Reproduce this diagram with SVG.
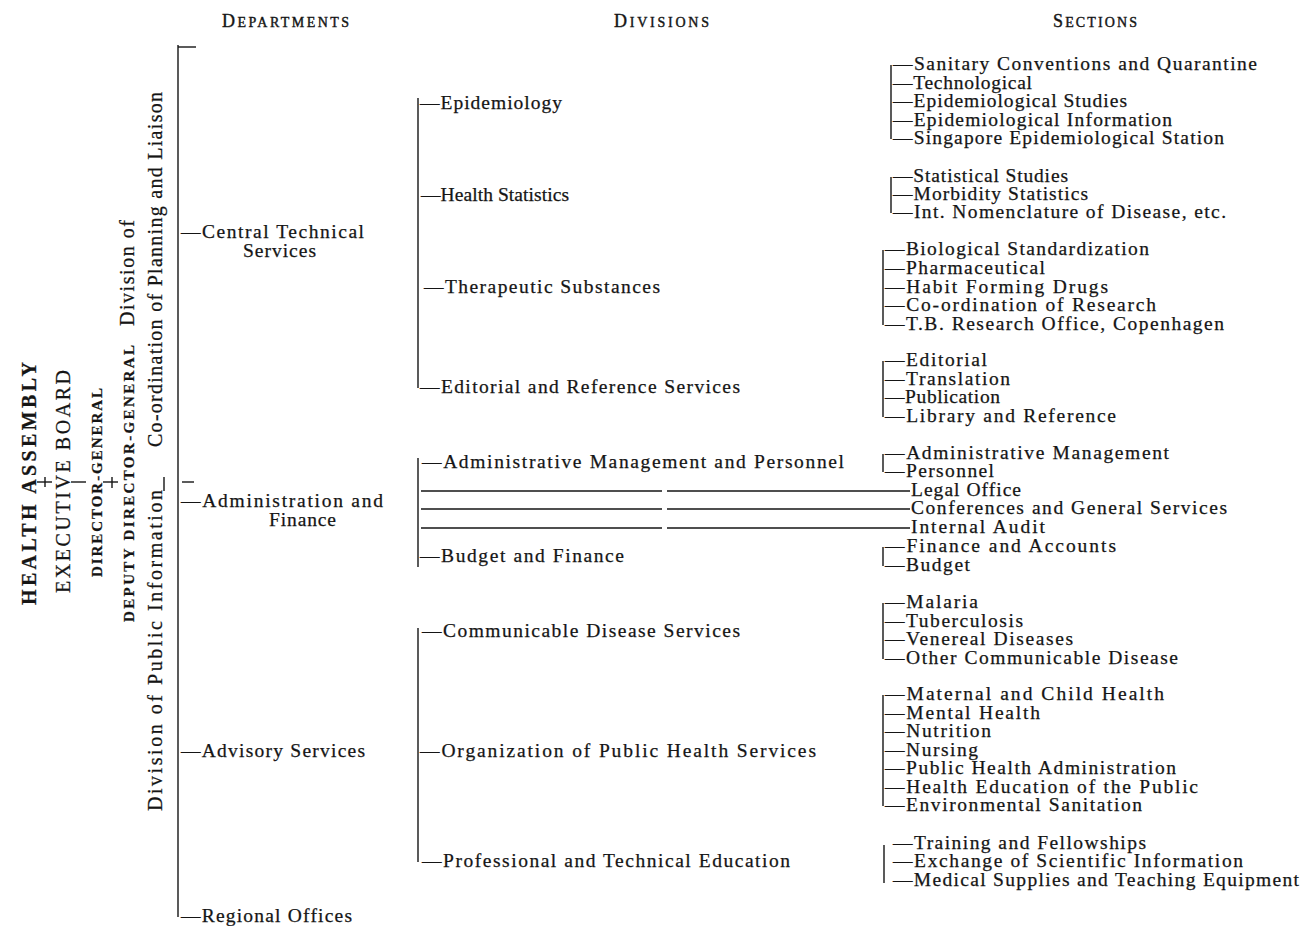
<svg xmlns="http://www.w3.org/2000/svg" width="1302" height="926" viewBox="0 0 1302 926">
<style>
.t{font-family:"Liberation Serif","Times New Roman",serif;font-size:19.5px;fill:#151515;stroke:#151515;stroke-width:0.25}
.v{font-family:"Liberation Serif","Times New Roman",serif;fill:#151515;stroke:#151515;stroke-width:0.25}
.h{font-family:"Liberation Serif","Times New Roman",serif;fill:#151515;stroke:#151515;stroke-width:0.4}
.c line{stroke:#151515;stroke-width:1.4;fill:none}
</style>
<rect width="1302" height="926" fill="#ffffff"/>
<g id="headers">
<text class="h" x="222" y="27" textLength="127"><tspan font-size="18">D</tspan><tspan font-size="14">EPARTMENTS</tspan></text>
<text class="h" x="614" y="27" textLength="95"><tspan font-size="18">D</tspan><tspan font-size="14">IVISIONS</tspan></text>
<text class="h" x="1053" y="27" textLength="84"><tspan font-size="18">S</tspan><tspan font-size="14">ECTIONS</tspan></text>
</g>
<g id="top-level">
<text class="v" font-size="20" font-weight="bold" transform="translate(36,605) rotate(-90)" textLength="243">HEALTH ASSEMBLY</text>
<text class="v" font-size="20" transform="translate(70,593) rotate(-90)" textLength="223">EXECUTIVE BOARD</text>
<text class="v" font-size="15" font-weight="bold" transform="translate(102,577) rotate(-90)" textLength="189">DIRECTOR-GENERAL</text>
<text class="v" font-size="15" font-weight="bold" transform="translate(134,622) rotate(-90)" textLength="277">DEPUTY DIRECTOR-GENERAL</text>
<text class="v" font-size="20" transform="translate(134,326) rotate(-90)" textLength="106">Division of</text>
<text class="v" font-size="20" transform="translate(162,447) rotate(-90)" textLength="355">Co-ordination of Planning and Liaison</text>
<text class="v" font-size="20" transform="translate(162,811) rotate(-90)" textLength="321">Division of Public Information</text>
</g>
<g class="c" id="connectors">
<line x1="37" y1="482" x2="52" y2="482"/>
<line x1="45" y1="477" x2="45" y2="487"/>
<line x1="71" y1="482" x2="86" y2="482"/>
<line x1="103" y1="482" x2="118" y2="482"/>
<line x1="112" y1="477" x2="112" y2="488"/>
<line x1="164" y1="477" x2="164" y2="491"/>
<line x1="182" y1="482" x2="194" y2="482"/>
<line x1="178" y1="45" x2="178" y2="917"/>
<line x1="178" y1="47" x2="196" y2="47"/>
<line x1="418" y1="98" x2="418" y2="388"/>
<line x1="418" y1="458" x2="418" y2="567"/>
<line x1="418" y1="628" x2="418" y2="862"/>
<line x1="421" y1="491" x2="662" y2="491"/>
<line x1="667" y1="491" x2="910" y2="491"/>
<line x1="421" y1="509" x2="662" y2="509"/>
<line x1="667" y1="509" x2="910" y2="509"/>
<line x1="421" y1="528" x2="662" y2="528"/>
<line x1="667" y1="528" x2="910" y2="528"/>
<line x1="891" y1="65" x2="891" y2="139"/>
<line x1="891" y1="177" x2="891" y2="213"/>
<line x1="883" y1="250" x2="883" y2="325"/>
<line x1="883" y1="361" x2="883" y2="417"/>
<line x1="883" y1="454" x2="883" y2="472"/>
<line x1="883" y1="547" x2="883" y2="566"/>
<line x1="883" y1="603" x2="883" y2="659"/>
<line x1="883" y1="695" x2="883" y2="806"/>
<line x1="884" y1="845" x2="884" y2="883"/>
</g>
<g id="departments">
<text class="t" x="181" y="238" textLength="183">—Central Technical</text>
<text class="t" x="243" y="257" textLength="73">Services</text>
<text class="t" x="181" y="507" textLength="202">—Administration and</text>
<text class="t" x="269" y="526" textLength="67">Finance</text>
<text class="t" x="181" y="757" textLength="184">—Advisory Services</text>
<text class="t" x="181" y="922" textLength="171">—Regional Offices</text>
</g>
<g id="divisions">
<text class="t" x="420" y="109" textLength="142">—Epidemiology</text>
<text class="t" x="421" y="201" textLength="148">—Health Statistics</text>
<text class="t" x="424" y="293" textLength="236">—Therapeutic Substances</text>
<text class="t" x="420" y="393" textLength="320">—Editorial and Reference Services</text>
<text class="t" x="422" y="468" textLength="422">—Administrative Management and Personnel</text>
<text class="t" x="420" y="562" textLength="204">—Budget and Finance</text>
<text class="t" x="422" y="637" textLength="318">—Communicable Disease Services</text>
<text class="t" x="420" y="757" textLength="396">—Organization of Public Health Services</text>
<text class="t" x="422" y="867" textLength="368">—Professional and Technical Education</text>
</g>
<g id="sections-epidemiology">
<text class="t" x="893" y="70" textLength="364">—Sanitary Conventions and Quarantine</text>
<text class="t" x="893" y="89" textLength="139">—Technological</text>
<text class="t" x="893" y="107" textLength="234">—Epidemiological Studies</text>
<text class="t" x="893" y="126" textLength="279">—Epidemiological Information</text>
<text class="t" x="893" y="144" textLength="331">—Singapore Epidemiological Station</text>
</g>
<g id="sections-statistics">
<text class="t" x="893" y="182" textLength="175">—Statistical Studies</text>
<text class="t" x="893" y="200" textLength="195">—Morbidity Statistics</text>
<text class="t" x="893" y="218" textLength="333">—Int. Nomenclature of Disease, etc.</text>
</g>
<g id="sections-therapeutic">
<text class="t" x="885" y="255" textLength="264">—Biological Standardization</text>
<text class="t" x="885" y="274" textLength="160">—Pharmaceutical</text>
<text class="t" x="885" y="293" textLength="223">—Habit Forming Drugs</text>
<text class="t" x="885" y="311" textLength="271">—Co-ordination of Research</text>
<text class="t" x="885" y="330" textLength="339">—T.B. Research Office, Copenhagen</text>
</g>
<g id="sections-editorial">
<text class="t" x="885" y="366" textLength="102">—Editorial</text>
<text class="t" x="885" y="385" textLength="125">—Translation</text>
<text class="t" x="885" y="403" textLength="115">—Publication</text>
<text class="t" x="885" y="422" textLength="231">—Library and Reference</text>
</g>
<g id="sections-administration">
<text class="t" x="885" y="459" textLength="284">—Administrative Management</text>
<text class="t" x="885" y="477" textLength="109">—Personnel</text>
<text class="t" x="911" y="496" textLength="110">Legal Office</text>
<text class="t" x="911" y="514" textLength="316">Conferences and General Services</text>
<text class="t" x="911" y="533" textLength="134">Internal Audit</text>
<text class="t" x="885" y="552" textLength="231">—Finance and Accounts</text>
<text class="t" x="885" y="571" textLength="85">—Budget</text>
</g>
<g id="sections-communicable">
<text class="t" x="885" y="608" textLength="93">—Malaria</text>
<text class="t" x="885" y="627" textLength="138">—Tuberculosis</text>
<text class="t" x="885" y="645" textLength="188">—Venereal Diseases</text>
<text class="t" x="885" y="664" textLength="293">—Other Communicable Disease</text>
</g>
<g id="sections-public-health">
<text class="t" x="885" y="700" textLength="279">—Maternal and Child Health</text>
<text class="t" x="885" y="719" textLength="155">—Mental Health</text>
<text class="t" x="885" y="737" textLength="106">—Nutrition</text>
<text class="t" x="885" y="756" textLength="93">—Nursing</text>
<text class="t" x="885" y="774" textLength="291">—Public Health Administration</text>
<text class="t" x="885" y="793" textLength="313">—Health Education of the Public</text>
<text class="t" x="885" y="811" textLength="257">—Environmental Sanitation</text>
</g>
<g id="sections-education">
<text class="t" x="893" y="849" textLength="253">—Training and Fellowships</text>
<text class="t" x="893" y="867" textLength="350">—Exchange of Scientific Information</text>
<text class="t" x="893" y="886" textLength="406">—Medical Supplies and Teaching Equipment</text>
</g>
</svg>
